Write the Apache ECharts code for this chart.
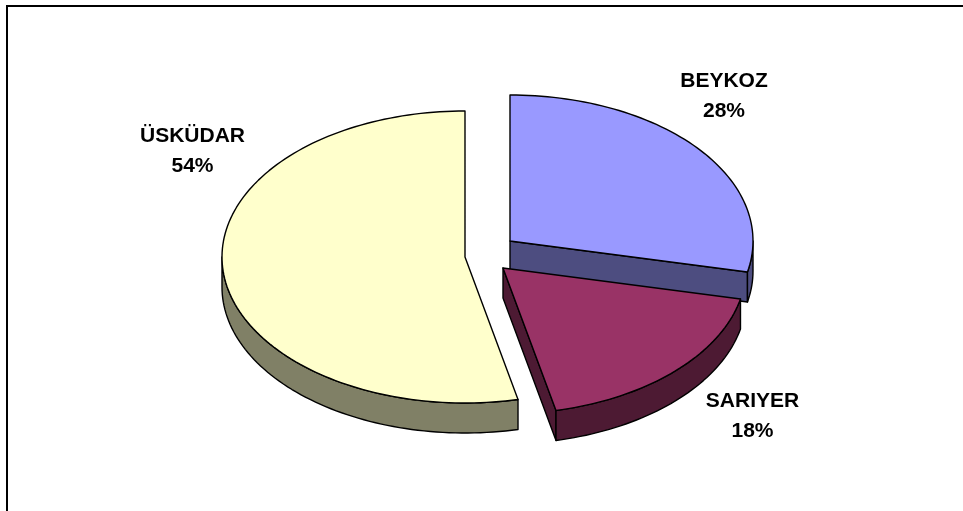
<!DOCTYPE html>
<html>
<head>
<meta charset="utf-8">
<style>html,body{margin:0;padding:0;background:#fff}#c{width:963px;height:511px}</style>
<script src="https://cdn.jsdelivr.net/npm/echarts@6/dist/echarts.min.js"></script>
</head>
<body>
<div id="c"></div>
<script>
// Data
const categories = ['BEYKOZ', 'SARIYER', 'ÜSKÜDAR'];
const shares = [28.4, 18.1, 53.5];

// Styling and layout
const topColors = ['#9999FF', '#993366', '#FFFFCC'];
const sideColors = ['#4D4D80', '#4D1A33', '#808066'];
const explodedCenters = [[510, 241], [503, 268], [465, 257]];
const labelCenters = [[724, 96], [752.5, 416], [192.5, 151]];
const radiusX = 243, radiusY = 146, depth = 30;

const total = shares.reduce((a, b) => a + b, 0);
const RAD = Math.PI / 180;

function pt(c, deg, dy) {
  return [c[0] + radiusX * Math.sin(deg * RAD), c[1] - radiusY * Math.cos(deg * RAD) + (dy || 0)];
}
function arc(c, from, to, dy) {
  const n = Math.max(2, Math.ceil(Math.abs(to - from) / 1.5));
  const out = [];
  for (let i = 0; i <= n; i++) out.push(pt(c, from + (to - from) * i / n, dy));
  return out;
}
function poly(points, fill) {
  return { type: 'polygon', shape: { points }, style: { fill, stroke: '#000', lineWidth: 1.4, lineJoin: 'round' } };
}

function renderItem(params, api) {
  const i = params.dataIndex;
  let acc = 0;
  for (let k = 0; k < i; k++) acc += shares[k];
  const from = acc / total * 360;
  const to = (acc + api.value(0)) / total * 360;
  const c = explodedCenters[i];
  const side = sideColors[i];
  const children = [];
  // cut faces turned towards the viewer
  [[to, Math.sin(to * RAD)], [from, -Math.sin(from * RAD)]].forEach(([a, facing]) => {
    if (facing > 0.01) {
      const e = pt(c, a);
      children.push(poly([c, e, [e[0], e[1] + depth], [c[0], c[1] + depth]], side));
    }
  });
  // outer wall, only the near half of the rim
  const wallFrom = Math.max(from, 90), wallTo = Math.min(to, 270);
  if (wallTo > wallFrom) {
    children.push(poly(arc(c, wallFrom, wallTo, 0).concat(arc(c, wallTo, wallFrom, depth)), side));
  }
  // top face
  children.push(poly([c].concat(arc(c, from, to, 0)), topColors[i]));
  // label
  children.push({
    type: 'text',
    z2: 10,
    style: {
      x: labelCenters[i][0], y: labelCenters[i][1],
      text: categories[i] + '\n' + Math.round(api.value(0) / total * 100) + '%',
      align: 'center', verticalAlign: 'middle',
      fontFamily: '"Liberation Sans", Arial, sans-serif',
      fontWeight: 'bold', fontSize: 21, lineHeight: 30, fill: '#000'
    }
  });
  return { type: 'group', children };
}

const chart = echarts.init(document.getElementById('c'), null, { renderer: 'canvas', width: 963, height: 511 });
chart.setOption({
  animation: false,
  backgroundColor: '#fff',
  graphic: [
    { type: 'line', shape: { x1: 7, y1: 5, x2: 7, y2: 511 }, style: { stroke: '#000', lineWidth: 2 } },
    { type: 'line', shape: { x1: 6, y1: 6, x2: 963, y2: 6 }, style: { stroke: '#000', lineWidth: 2 } }
  ],
  series: [{
    type: 'custom',
    coordinateSystem: 'none',
    renderItem,
    data: shares.map((v, i) => ({ name: categories[i], value: [v] }))
  }]
});
</script>
</body>
</html>
